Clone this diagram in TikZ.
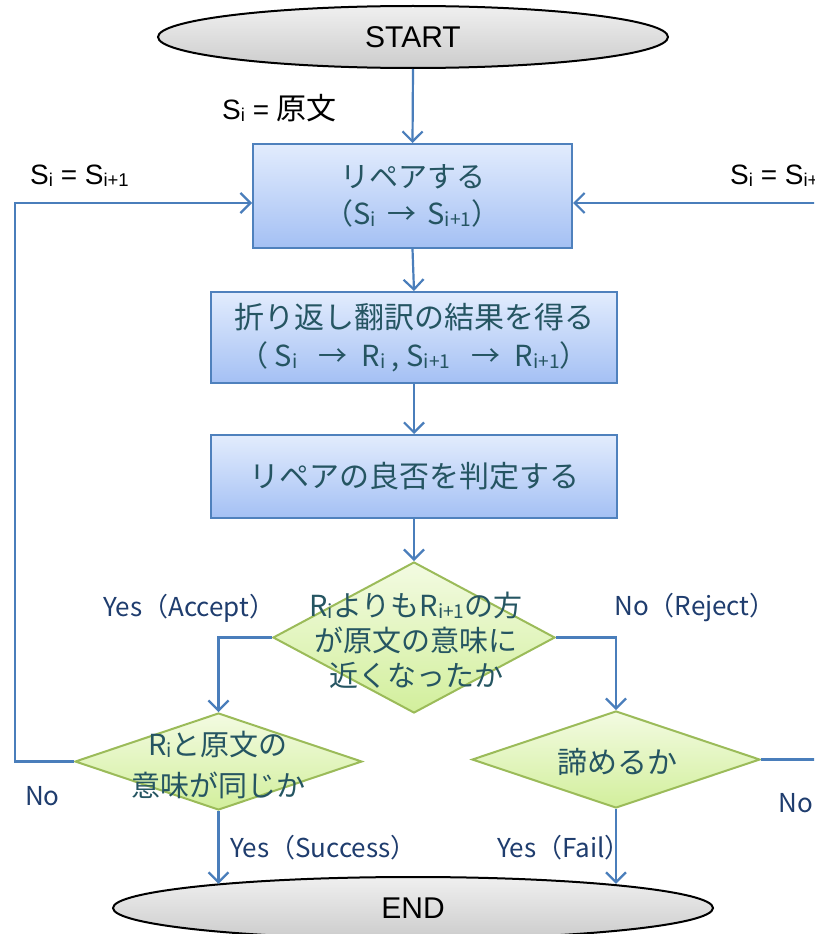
\documentclass[tikz,border=0pt]{standalone}
\usepackage{fontspec}
\usepackage{graphicx}
\setmainfont{Noto Sans CJK JP}
\newfontfamily\arialf{Liberation Sans}
\newfontfamily\cjkf{Noto Sans CJK JP}
\usetikzlibrary{shapes.geometric,arrows.meta,calc}
\definecolor{arrblue}{HTML}{4A7EBB}
\definecolor{boxedge}{HTML}{4F81BD}
\definecolor{boxtop}{HTML}{E2ECFD}
\definecolor{boxbot}{HTML}{A4C0F4}
\definecolor{dtop}{HTML}{F3FBE2}
\definecolor{dbot}{HTML}{D2EF9C}
\definecolor{dedge}{HTML}{9BBB59}
\definecolor{boxtext}{HTML}{255562}
\definecolor{labtext}{HTML}{1F3D6E}
\newcommand{\sbs}[1]{\raisebox{-0.12ex}{\scalebox{0.66}{#1}}}
\tikzset{
 arr/.style={draw=arrblue, line width=2.2pt, -{Straight Barb[length=10pt,width=20pt,line width=2.2pt]}},
 procbox/.style={rectangle, draw=boxedge, line width=2pt, top color=boxtop, bottom color=boxbot, inner sep=0pt, align=center, text=boxtext},
 decision/.style={diamond, draw=dedge, line width=2pt, top color=dtop, bottom color=dbot, inner sep=0pt},
 terminal/.style={ellipse, draw=black, line width=2pt, top color=gray!12, bottom color=gray!40, inner sep=0pt, font=\arialf\fontsize{30}{34}\selectfont},
 dtext/.style={align=center, text=boxtext, inner sep=0pt},
 lab/.style={text=labtext, font=\fontsize{26}{30}\selectfont, inner sep=0pt, anchor=west},
 blab/.style={text=black, font=\arialf\fontsize{28}{30}\selectfont, inner sep=0pt, anchor=west},
}
\begin{document}
\begin{tikzpicture}[x=1pt,y=-1pt]
\useasboundingbox (0,0) rectangle (814,934);
\clip (0,0) rectangle (814,934);
\fill[white] (0,0) rectangle (814,934);

% nodes
\node[terminal, minimum width=510pt, minimum height=62pt] (start) at (413,37) {START};
\node[procbox, minimum width=319pt, minimum height=104pt, font=\fontsize{29}{37}\selectfont] (box1) at (412.5,196)
  {リペアする\\
   {\fontsize{29}{37}\selectfont （S\sbs{i} \,→\, S\sbs{i+1}）}};
\node[procbox, minimum width=406pt, minimum height=91pt, font=\fontsize{30}{38}\selectfont] (box2) at (414,337.5)
  {折り返し翻訳の結果を得る\\
   {\fontsize{29}{38}\selectfont （ S\sbs{i} \enspace→\enspace R\sbs{i} , S\sbs{i+1} \enspace→\enspace R\sbs{i+1}）}};
\node[procbox, minimum width=406pt, minimum height=83pt, font=\fontsize{30}{36}\selectfont] (box3) at (414,476.5)
  {リペアの良否を判定する};
\node[decision, minimum width=282pt, minimum height=151pt] (d1) at (414,637.5) {};
\node[dtext, font=\fontsize{29}{35}\selectfont] (d1t) at (416,640)
  {R\sbs{i}よりもR\sbs{i+1}の方\\が原文の意味に\\近くなったか};
\node[decision, minimum width=287pt, minimum height=97pt] (d2) at (218.5,761.5) {};
\node[dtext, font=\fontsize{29}{40}\selectfont] (d2t) at (218,765)
  {R\sbs{i}と原文の\\意味が同じか};
\node[decision, minimum width=288pt, minimum height=97pt] (d3) at (616,759.5) {};
\node[dtext, font=\fontsize{30}{36}\selectfont] (d3t) at (617,762) {諦めるか};
\node[terminal, minimum width=600pt, minimum height=62pt] (end) at (413,908) {END};

\coordinate (lcorner) at (15,761.5);
\coordinate (rcorner) at (840,759.5);

% connectors
\draw[arr] (start.south) -- (box1.north);
\draw[arr] (box1.south) -- (box2.north);
\draw[arr] (box2.south) -- (box3.north);
\draw[arr] (box3.south) -- (d1.north);
\draw[arr] (d1.west) -| (d2.north);
\draw[arr] (d1.east) -| (d3.north);
\draw[arr] (d2.west) -- (lcorner) |- ($(box1.west)+(0,7)$);
\draw[arr] (d3.east) -- (rcorner) |- ($(box1.east)+(0,7)$);
\draw[arr] (d2.south) -- (d2.south |- end.173);
\draw[arr] (d3.south) -- (d3.south |- end.7);

% labels
\node[blab] (l0) at (222,108) {S\sbs{i} = {\cjkf\fontsize{30}{30}\selectfont 原文}};
\node[blab] (l1) at (30,176) {S\sbs{i} = S\sbs{i+1}};
\node[blab] (l2) at (730,176) {S\sbs{i} = S\sbs{i+1}};
\node[lab] (l3) at (103,608) {Yes（Accept）};
\node[lab] (l4) at (614,608) {No（Reject）};
\node[lab] (l5) at (25,796) {No};
\node[lab] (l6) at (230,848) {Yes（Success）};
\node[lab] (l7) at (497,848) {Yes（Fail）};
\node[lab] (l8) at (778,803) {No};
\end{tikzpicture}
\end{document}
